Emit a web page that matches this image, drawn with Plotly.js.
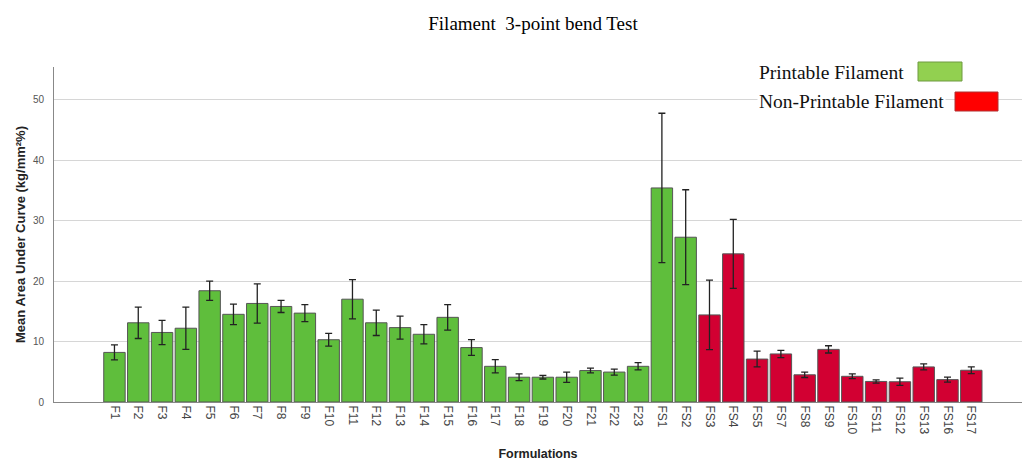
<!DOCTYPE html>
<html>
<head>
<meta charset="utf-8">
<script src="https://cdn.plot.ly/plotly-3.0.1.min.js"></script>
<style>html,body{margin:0;padding:0;background:#fff;}#chart{width:1023px;height:461px;}</style>
</head>
<body>
<div id="chart"></div>
<script>
const categories = ["F1","F2","F3","F4","F5","F6","F7","F8","F9","F10","F11","F12","F13","F14","F15","F16","F17","F18","F19","F20","F21","F22","F23","FS1","FS2","FS3","FS4","FS5","FS7","FS8","FS9","FS10","FS11","FS12","FS13","FS16","FS17"];
const meanValues = [8.2,13.1,11.5,12.2,18.4,14.5,16.3,15.8,14.7,10.3,17.0,13.1,12.3,11.2,14.0,9.0,5.9,4.1,4.1,4.1,5.2,4.95,5.9,35.4,27.25,14.4,24.5,7.1,7.95,4.5,8.7,4.25,3.4,3.35,5.8,3.7,5.25];
const errValues = [1.25,2.6,2.0,3.5,1.6,1.7,3.25,1.0,1.4,1.05,3.25,2.1,1.9,1.6,2.1,1.3,1.1,0.55,0.3,0.85,0.4,0.5,0.6,12.35,7.85,5.75,5.7,1.3,0.6,0.45,0.6,0.4,0.27,0.6,0.5,0.4,0.55];
const printable = [1,1,1,1,1,1,1,1,1,1,1,1,1,1,1,1,1,1,1,1,1,1,1,1,1,0,0,0,0,0,0,0,0,0,0,0,0];
const legendLabels = ["Printable Filament","Non-Printable Filament"];

const GREEN = "#5fbe3c", RED = "#d20032";
const barColors = printable.map(p => p ? GREEN : RED);

const W = 1023, H = 461, L = 54, R = 1, T = 67, B = 59;
const pw = W - L - R, ph = H - T - B;
const px = x => (x - L) / pw;
const py = y => (H - B - y) / ph;

const trace = {
  type: "bar",
  x: categories,
  y: meanValues,
  marker: {color: barColors, line: {color: "#555555", width: 1}},
  error_y: {type: "data", array: errValues, visible: true, color: "#222222", thickness: 1.3, width: 3.5},
  showlegend: false,
  hoverinfo: "x+y"
};

const layout = {
  width: W, height: H,
  margin: {l: L, r: R, t: T, b: B, autoexpand: false},
  paper_bgcolor: "#ffffff", plot_bgcolor: "#ffffff",
  bargap: 0.1,
  title: {text: "Filament  3-point bend Test", font: {family: "Liberation Serif, Times New Roman, serif", size: 19, color: "#000"},
          xref: "container", yref: "container", x: 0.521, y: 1 - 23/H, xanchor: "center", yanchor: "middle"},
  xaxis: {
    type: "category", categoryorder: "array", categoryarray: categories,
    range: [-2.54, 38.13], fixedrange: true,
    tickangle: 90, tickfont: {family: "Liberation Sans, Arial, sans-serif", size: 12, color: "#444"},
    showline: true, linecolor: "#888", linewidth: 1, ticks: "", showgrid: false, zeroline: false,
    automargin: false,
    title: {text: "Formulations", font: {family: "Liberation Sans, Arial, sans-serif", size: 12.5, color: "#222", weight: "bold"}, standoff: 18}
  },
  yaxis: {
    range: [0, 55.4], tickvals: [0,10,20,30,40,50], fixedrange: true,
    tickfont: {family: "Liberation Sans, Arial, sans-serif", size: 10, color: "#555"},
    showline: true, linecolor: "#888", linewidth: 1, ticks: "", ticklabelstandoff: 7,
    showgrid: true, gridcolor: "#d6d6d6", gridwidth: 1, zeroline: false,
    automargin: false,
    title: {text: "Mean Area Under Curve (kg/mm²%)", font: {family: "Liberation Sans, Arial, sans-serif", size: 13, color: "#222", weight: "bold"}, standoff: 4}
  },
  annotations: [
    {text: legendLabels[0], xref: "paper", yref: "paper", x: px(757), y: py(72), xanchor: "left", yanchor: "middle",
     showarrow: false, bgcolor: "#ffffff", font: {family: "Liberation Serif, Times New Roman, serif", size: 19.5, color: "#111"}},
    {text: legendLabels[1], xref: "paper", yref: "paper", x: px(757), y: py(101), xanchor: "left", yanchor: "middle",
     showarrow: false, bgcolor: "#ffffff", font: {family: "Liberation Serif, Times New Roman, serif", size: 19.5, color: "#111"}}
  ],
  shapes: [
    {type: "rect", xref: "paper", yref: "paper", x0: px(918), x1: px(962), y0: py(81), y1: py(62), layer: "above",
     fillcolor: "#92d050", line: {color: "#6f9a40", width: 1}},
    {type: "rect", xref: "paper", yref: "paper", x0: px(955), x1: px(998), y0: py(111), y1: py(92), layer: "above",
     fillcolor: "#ff0000", line: {color: "#b03030", width: 1}}
  ]
};

Plotly.newPlot("chart", [trace], layout, {displayModeBar: false, staticPlot: true});
</script>
</body>
</html>
